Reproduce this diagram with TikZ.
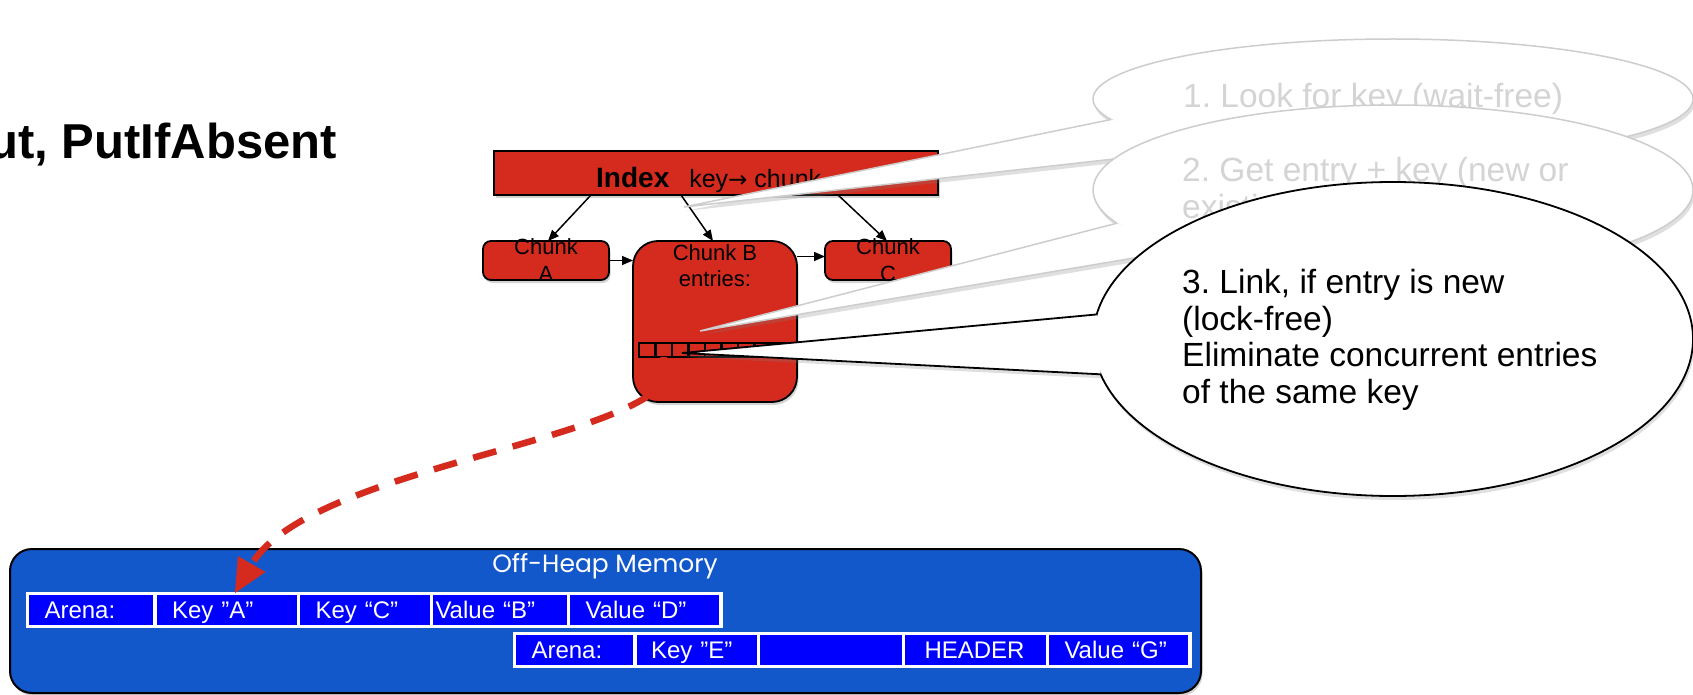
\documentclass[tikz,border=0pt]{standalone}
\usepackage{fontspec}
\setmainfont{Liberation Sans}
\newfontfamily\heapfont{Poppins}
\newfontfamily\arrowfont{DejaVu Sans}
\usetikzlibrary{arrows.meta,shadows,calc}
\definecolor{boxred}{RGB}{212,43,30}
\definecolor{heapblue}{RGB}{19,88,202}
\definecolor{cellblue}{RGB}{0,0,255}
\definecolor{fadetext}{RGB}{212,212,212}
\definecolor{fadeline}{RGB}{205,205,205}
\newcommand\mytitlefont{\fontsize{49}{55}\selectfont\bfseries}
\newcommand\mychunkfont{\fontsize{22}{27}\selectfont}
\newcommand\mychunkBfont{\fontsize{22}{26}\selectfont}
\newcommand\mycellfont{\fontsize{24}{28}\selectfont}
\newcommand\mycallfont{\fontsize{33.5}{36.7}\selectfont}
\newcommand\myheapfont{\heapfont\fontsize{25}{30}\selectfont}
\frenchspacing
\begin{document}
\begin{tikzpicture}[x=1pt,y=-1pt,
  redbox/.style={draw=black, line width=1.8pt, fill=boxred, inner sep=0pt, outer sep=0pt,
    drop shadow={shadow xshift=1.5pt, shadow yshift=-3pt, opacity=0.35}},
  linkarrow/.style={draw=black, line width=1.5pt, -{Triangle[length=11pt,width=9pt]}},
  entrycell/.style={draw=black, line width=2.2pt, fill=boxred, minimum width=16.5pt,
    minimum height=14pt, inner sep=0pt, outer sep=0pt},
  heapcell/.style={draw=white, line width=3.5pt, fill=cellblue, minimum height=33pt,
    inner ysep=0pt, outer sep=0pt, text=white, font=\mycellfont, align=left,
    text height=22pt, text depth=5pt, anchor=west},
  heaplink/.style={draw=boxred, line width=6.5pt, dash pattern=on 24pt off 17pt,
    -{Triangle[length=34pt,width=30pt]}},
  callshadow/.style={drop shadow={shadow xshift=1.5pt, shadow yshift=-4pt, opacity=0.25}},
  calltext/.style={font=\mycallfont, inner sep=0pt, align=left}
]
\useasboundingbox (0,0) rectangle (1693,695);
\clip (0,0) rectangle (1693,695);

% title
\node[anchor=base east, inner sep=0pt, font=\mytitlefont] (title) at (337,159) {ut, PutIfAbsent};

% index and chunks
\node[redbox, minimum width=444pt, minimum height=44pt] (index) at (716,173) {};
\node[anchor=base west, inner sep=0pt] (indexlabel) at (596,187)
  {{\fontsize{28}{32}\selectfont\bfseries Index}\hspace{20pt}{\fontsize{25}{30}\selectfont key{\arrowfont\fontsize{23}{30}\selectfont →} chunk}};

\node[redbox, rounded corners=8pt, minimum width=126pt, minimum height=39pt] (chunkA) at (546,260.5) {};
\node[align=center, font=\mychunkfont, inner sep=0pt] (chunkAtext) at (chunkA.center) {Chunk\\A};

\node[redbox, rounded corners=25pt, minimum width=164pt, minimum height=161pt] (chunkB) at (715,321.5) {};
\node[align=center, font=\mychunkBfont, inner sep=0pt] (chunkBtext) at (715,266) {Chunk B\\entries:};

\node[redbox, rounded corners=8pt, minimum width=126pt, minimum height=39pt] (chunkC) at (888,260.5) {};
\node[align=center, font=\mychunkfont, inner sep=0pt] (chunkCtext) at (chunkC.center) {Chunk\\C};

\foreach \i in {1,...,9} \node[entrycell] (e\i) at ({639+16.5*(\i-0.5)},350) {};

\draw[linkarrow] ([xshift=-125pt]index.south) -- ([xshift=2pt]chunkA.north);
\draw[linkarrow] ([xshift=-35pt]index.south) -- ([xshift=-2pt]chunkB.north);
\draw[linkarrow] ([xshift=122pt]index.south) -- ([xshift=-1pt]chunkC.north);
\draw[linkarrow] (chunkA.east) -- (chunkA.east -| chunkB.west);
\draw[linkarrow] ([yshift=4pt]chunkC.west -| chunkB.east) -- ([yshift=4pt]chunkC.west);

% off-heap memory
\node[draw=black, line width=2pt, fill=heapblue, rounded corners=22pt, minimum width=1191pt,
  minimum height=144pt, inner sep=0pt, outer sep=0pt,
  drop shadow={shadow xshift=1.5pt, shadow yshift=-3pt, opacity=0.35}] (heap) at (605.5,621) {};
\node[text=white, font=\myheapfont, inner sep=0pt] (heaplabel) at (605,566) {Off-Heap Memory};

\node[heapcell, inner xsep=17pt, text width=93.5pt] (arenaA) at (27.5,610) {Arena:};
\node[heapcell, inner xsep=17pt, text width=109.5pt] (keyA) at (155,610) {Key ”A”};
\node[heapcell, inner xsep=17pt, text width=99pt] (keyC) at (298.5,610) {Key “C”};
\node[heapcell, inner xsep=4pt, text width=129pt] (valB) at (431.5,610) {Value “B”};
\node[heapcell, inner xsep=17pt, text width=118.5pt] (valD) at (568.5,610) {Value “D”};

\node[heapcell, inner xsep=17pt, text width=86.5pt] (arenaB) at (514.5,650) {Arena:};
\node[heapcell, inner xsep=16pt, text width=91.5pt] (keyE) at (635,650) {Key ”E”};
\node[heapcell, inner xsep=17pt, text width=111pt] (blank) at (758.5,650) {};
\node[heapcell, inner xsep=21pt, text width=102pt] (header) at (903.5,650) {HEADER};
\node[heapcell, inner xsep=17pt, text width=108.5pt] (valG) at (1047.5,650) {Value “G”};

\draw[heaplink] (e2.south) .. controls (663,378) and (655,390) .. (645,398)
  .. controls (560,450) and (300,480) .. ([xshift=8pt]keyA.north);

% callout 1
\coordinate (c1) at (1393,99);
\coordinate (tip1) at (684,207);
\fill[white, callshadow] (tip1) -- ($(c1)+(200:300pt and 60pt)$) -- ($(c1)+(234:300pt and 60pt)$) -- cycle;
\path[fill=white, draw=fadeline, line width=1.5pt, callshadow] (c1) ellipse [x radius=300pt, y radius=60pt];
\fill[white] (tip1) -- ($(c1)+(200:300pt and 60pt)$) -- ($(c1)+(234:300pt and 60pt)$) -- cycle;
\draw[fadeline, line width=1.5pt] ($(c1)+(200:300pt and 60pt)$) -- (tip1) -- ($(c1)+(234:300pt and 60pt)$);
\node[calltext, text=fadetext, anchor=base west] (t1) at (1183,108) {1. Look for key (wait-free)};

% callout 2
\coordinate (c2) at (1393,190);
\coordinate (tip2) at (700,331);
\fill[white, callshadow] (tip2) -- ($(c2)+(203:300pt and 85pt)$) -- ($(c2)+(225:300pt and 85pt)$) -- cycle;
\path[fill=white, draw=fadeline, line width=1.5pt, callshadow] (c2) ellipse [x radius=300pt, y radius=85pt];
\fill[white] (tip2) -- ($(c2)+(203:300pt and 85pt)$) -- ($(c2)+(225:300pt and 85pt)$) -- cycle;
\draw[fadeline, line width=1.5pt] ($(c2)+(203:300pt and 85pt)$) -- (tip2) -- ($(c2)+(225:300pt and 85pt)$);
\node[calltext, text=fadetext, anchor=north west] (t2) at (1182,157.2) {2. Get entry + key (new or\\existing)};

% callout 3
\coordinate (c3) at (1393,339);
\coordinate (tip3) at (682,353);
\fill[white, callshadow] (tip3) -- ($(c3)+(171:300pt and 157pt)$) -- ($(c3)+(193:300pt and 157pt)$) -- cycle;
\path[fill=white, draw=black, line width=1.8pt, callshadow] (c3) ellipse [x radius=300pt, y radius=157pt];
\fill[white] (tip3) -- ($(c3)+(171:300pt and 157pt)$) -- ($(c3)+(193:300pt and 157pt)$) -- cycle;
\draw[black, line width=1.8pt] ($(c3)+(171:300pt and 157pt)$) -- (tip3) -- ($(c3)+(193:300pt and 157pt)$);
\node[calltext, anchor=north west] (t3) at (1182,269) {3. Link, if entry is new\\(lock-free)\\Eliminate concurrent entries\\of the same key};
\end{tikzpicture}
\end{document}
